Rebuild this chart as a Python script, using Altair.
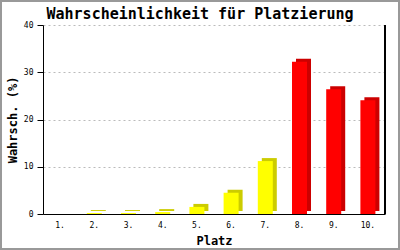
import altair as alt
import pandas as pd

plaetze = ["1.", "2.", "3.", "4.", "5.", "6.", "7.", "8.", "9.", "10."]
werte = [0.0, 0.2, 0.2, 0.4, 1.5, 4.5, 11.2, 32.2, 26.4, 24.1]
gruppen = ["gelb", "gelb", "gelb", "gelb", "gelb", "gelb", "gelb", "rot", "rot", "rot"]
y_ticks = [0, 10, 20, 30, 40]

df = pd.DataFrame({"platz": plaetze, "wert": werte, "gruppe": gruppen})

W, H = 342, 189
MONO = "DejaVu Sans Mono"

x_enc = alt.X(
    "platz:N", sort=plaetze,
    scale=alt.Scale(paddingInner=0, paddingOuter=0),
    axis=alt.Axis(
        title="Platz", labelAngle=0, ticks=False, domainColor="black", domainWidth=1,
        labelFont=MONO, labelFontSize=8, labelColor="black", labelPadding=7,
        titleFont=MONO, titleFontSize=12, titleFontWeight="bold", titleColor="black",
        titlePadding=6, grid=False,
    ),
)
y_enc = alt.Y(
    "wert:Q",
    scale=alt.Scale(domain=[0, 40], nice=False, zero=True),
    axis=alt.Axis(
        title="Wahrsch. (%)", values=y_ticks, tickSize=6, tickColor="black",
        domainColor="black", domainWidth=1,
        labelFont=MONO, labelFontSize=8, labelColor="black", labelPadding=4,
        titleFont=MONO, titleFontSize=12, titleFontWeight="bold", titleColor="black",
        titleAngle=-90, titleX=-31, titleY=H / 2, titleBaseline="middle", titleAlign="center",
        grid=True, gridColor="#bbbbbb", gridDash=[2, 3], gridWidth=1,
    ),
)

back = alt.Chart(df).transform_filter("datum.wert > 0").mark_bar(
    size=15, xOffset=4, yOffset=-3
).encode(
    x=x_enc, y=y_enc,
    color=alt.Color("gruppe:N", scale=alt.Scale(domain=["gelb", "rot"], range=["#cccc00", "#cc0000"]), legend=None),
)

front = alt.Chart(df).mark_bar(size=15).encode(
    x=x_enc, y=y_enc,
    color=alt.Color("gruppe:N", scale=alt.Scale(domain=["gelb", "rot"], range=["#ffff00", "#ff0000"]), legend=None),
)

right_line = alt.Chart(df).mark_rule(color="black", strokeWidth=1).encode(
    x=alt.value(W), y=alt.value(0), y2=alt.value(H)
)

border = alt.Chart(df).mark_rect(fill=None, stroke="#999999", strokeWidth=2).encode(
    x=alt.value(-42), x2=alt.value(356), y=alt.value(-24), y2=alt.value(224)
)

chart = alt.layer(back, front, right_line, border).resolve_scale(color="independent").properties(
    width=W, height=H,
    title=alt.TitleParams(
        "Wahrscheinlichkeit für Platzierung", font=MONO, fontSize=15, fontWeight="bold",
        color="black", anchor="middle", offset=-22, dx=-14,
    ),
    autosize=alt.AutoSizeParams(type="none"),
    padding={"left": 43, "top": 25, "right": 15, "bottom": 36},
    background="white",
).configure_view(stroke=None)

chart.save("out.html", embed_options={"renderer": "svg", "actions": False})
